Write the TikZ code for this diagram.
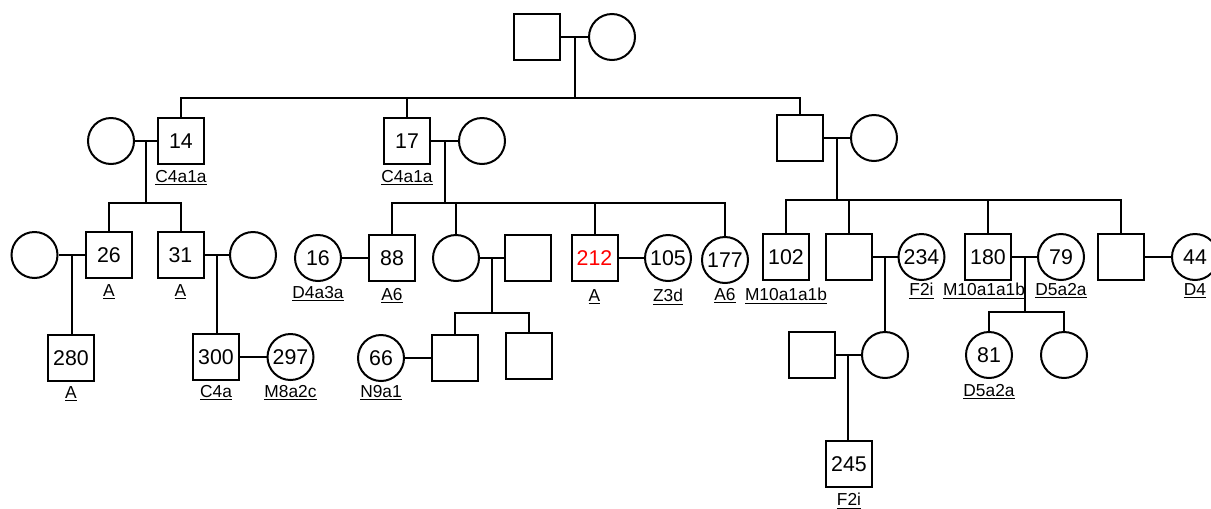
\documentclass[tikz,border=0pt]{standalone}
\usepackage{fontspec}
\setmainfont{Liberation Sans}
\usetikzlibrary{calc}
\begin{document}
\begin{tikzpicture}[x=0.75pt,y=-0.75pt,line width=1.5pt,
    male/.style={draw,rectangle,minimum size=34.5pt,inner sep=0pt,font=\fontsize{16}{19}\selectfont},
    female/.style={draw,circle,minimum size=34.5pt,inner sep=0pt,font=\fontsize{16}{19}\selectfont},
    hap/.style={font=\fontsize{13}{15}\selectfont,inner sep=1pt}]
  \useasboundingbox (0,0) rectangle (1211,508);

  % generation I
  \node[male] (g1m) at (537,37) {};
  \node[female] (g1f) at (612,37) {};
  \draw (g1m) -- (g1f);
  \coordinate (c1) at ($(g1m.east)!0.5!(g1f.west)$);
  \coordinate (s1) at (c1 |- 0,98);

  % generation II
  \node[female] (f14) at (111,141) {};
  \node[male] (n14) at (181,141) {14};
  \node[male] (n17) at (407,141) {17};
  \node[female] (f17) at (482,141) {};
  \node[male] (m3) at (799.5,138) {};
  \node[female] (f3) at (874,138) {};
  \node[hap] (h14) at (181,178) {\underline{C4a1a}};
  \node[hap] (h17) at (407,178) {\underline{C4a1a}};

  \draw (c1) -- (s1);
  \draw (n14.north) |- (s1) -| (m3.north);
  \draw (n17.north) -- (n17.north |- s1);

  \draw (f14) -- (n14);
  \draw (n17) -- (f17);
  \draw (m3) -- (f3);
  \coordinate (c14) at ($(f14.east)!0.5!(n14.west)$);
  \coordinate (s14) at (c14 |- 0,203);
  \coordinate (c17) at ($(n17.east)!0.5!(f17.west)$);
  \coordinate (s17) at (c17 |- 0,203);
  \coordinate (c3) at ($(m3.east)!0.5!(f3.west)$);
  \coordinate (s3) at (c3 |- 0,200);

  % generation III
  \node[female] (f26) at (34.5,255) {};
  \node[male] (n26) at (109,255) {26};
  \node[male] (n31) at (180.5,255) {31};
  \node[female] (f31) at (253,255) {};
  \node[female] (n16) at (318,258) {16};
  \node[male] (n88) at (392,258) {88};
  \node[female] (f2) at (456,258) {};
  \node[male] (m2) at (527.5,258) {};
  \node[male] (n212) at (594.5,258) {\textcolor{red}{212}};
  \node[female] (n105) at (668,258) {105};
  \node[female] (n177) at (725,260) {177};
  \node[male] (n102) at (786,257) {102};
  \node[male] (m5) at (848.5,257) {};
  \node[female] (n234) at (921.5,257) {234};
  \node[male] (n180) at (988,257) {180};
  \node[female] (n79) at (1061,257) {79};
  \node[male] (m6) at (1121,257) {};
  \node[female] (n44) at (1195,257) {44};

  \node[hap] (h26) at (109,292) {\underline{A}};
  \node[hap] (h31) at (180.5,292) {\underline{A}};
  \node[hap] (h16) at (318,294) {\underline{D4a3a}};
  \node[hap] (h88) at (392,296) {\underline{A6}};
  \node[hap] (h212) at (594.5,297) {\underline{A}};
  \node[hap] (h105) at (668,297) {\underline{Z3d}};
  \node[hap] (h177) at (725,296) {\underline{A6}};
  \node[hap] (h102) at (786,296) {\underline{M10a1a1b}};
  \node[hap] (h234) at (921.5,291) {\underline{F2i}};
  \node[hap] (h180) at (984,291) {\underline{M10a1a1b}};
  \node[hap] (h79) at (1061,291) {\underline{D5a2a}};
  \node[hap] (h44) at (1195,291) {\underline{D4}};

  \draw (c14) -- (s14);
  \draw (n26.north) |- (s14) -| (n31.north);
  \draw (c17) -- (s17);
  \draw (n88.north) |- (s17) -| (n177.north);
  \draw (f2.north) -- (f2.north |- s17);
  \draw (n212.north) -- (n212.north |- s17);
  \draw (c3) -- (s3);
  \draw (n102.north) |- (s3) -| (m6.north);
  \draw (m5.north) -- (m5.north |- s3);
  \draw (n180.north) -- (n180.north |- s3);

  \draw (f26) -- (n26);
  \draw (n31) -- (f31);
  \draw (n16) -- (n88);
  \draw (f2) -- (m2);
  \draw (n212) -- (n105);
  \draw (m5) -- (n234);
  \draw (n180) -- (n79);
  \draw (m6) -- (n44);
  \coordinate (c26) at ($(f26.east)!0.5!(n26.west)$);
  \coordinate (c31) at ($(n31.east)!0.5!(f31.west)$);
  \coordinate (c2) at ($(f2.east)!0.5!(m2.west)$);
  \coordinate (s2) at (c2 |- 0,313);
  \coordinate (c5) at ($(m5.east)!0.5!(n234.west)$);
  \coordinate (c180) at ($(n180.east)!0.5!(n79.west)$);
  \coordinate (s180) at (c180 |- 0,312);

  % generation IV
  \node[male] (n280) at (71,358) {280};
  \node[male] (n300) at (216,357) {300};
  \node[female] (n297) at (290.5,357) {297};
  \node[female] (n66) at (381,358) {66};
  \node[male] (m8) at (455,358) {};
  \node[male] (m9) at (528.5,356) {};
  \node[male] (m7) at (811.5,355) {};
  \node[female] (f5) at (885,355) {};
  \node[female] (n81) at (989,355) {81};
  \node[female] (f8) at (1064,355) {};

  \node[hap] (h280) at (71,394) {\underline{A}};
  \node[hap] (h300) at (216,393) {\underline{C4a}};
  \node[hap] (h297) at (290.5,393) {\underline{M8a2c}};
  \node[hap] (h66) at (381,393) {\underline{N9a1}};
  \node[hap] (h81) at (989,392) {\underline{D5a2a}};

  \draw (c26) -- (c26 |- n280.north);
  \draw (c31) -- (c31 |- n300.north);
  \draw (n300) -- (n297);
  \draw (c2) -- (s2);
  \draw (m8.north) |- (s2) -| (m9.north);
  \draw (n66) -- (m8);
  \draw (c5) -- (c5 |- f5.north);
  \draw (m7) -- (f5);
  \draw (c180) -- (s180);
  \draw (n81.north) |- (s180) -| (f8.north);
  \coordinate (c7) at ($(m7.east)!0.5!(f5.west)$);

  % generation V
  \node[male] (n245) at (849,464) {245};
  \node[hap] (h245) at (849,501) {\underline{F2i}};
  \draw (c7) -- (c7 |- n245.north);
\end{tikzpicture}
\end{document}
